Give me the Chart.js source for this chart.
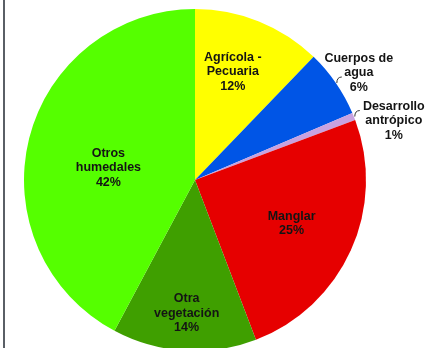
<!DOCTYPE html>
<html>
<head>
<meta charset="utf-8">
<script src="https://cdn.jsdelivr.net/npm/chart.js@4"></script>
<style>
  html, body { margin: 0; padding: 0; background: #fff; overflow: hidden; }
  #wrap { position: relative; width: 443px; height: 348px; overflow: hidden; }
  #edge { position: absolute; left: 3px; top: 0; width: 2px; height: 348px; background: #5a5f66; }
  canvas { display: block; }
</style>
</head>
<body>
<div id="wrap">
  <div id="edge"></div>
  <canvas id="chart" width="443" height="360"></canvas>
</div>
<script>
// data (percent of area)
var categories = [
  ['Agrícola -', 'Pecuaria'],
  ['Cuerpos de', 'agua'],
  ['Desarrollo', 'antrópico'],
  ['Manglar'],
  ['Otra', 'vegetación'],
  ['Otros', 'humedales']
];
var values = [12.2, 6.4, 0.7, 24.9, 13.6, 42.2];
var colors = ['#ffff00', '#0055e6', '#c8a2e0', '#e60000', '#3f9f00', '#55ff00'];

// where each label sits: fraction of radius along the slice middle, plus nudge
var labelLayout = [
  { r: 0.67, dx: -5, dy: -2 },
  { r: 1.0, dx: 23, dy: -10, leader: true },
  { r: 1.0, dx: 40, dy: 4, leader: true },
  { r: 0.62, dx: 0, dy: 0 },
  { r: 0.78, dx: 0, dy: 0 },
  { r: 0.51, dx: -2, dy: 9 }
];

var pieLabels = {
  id: 'pieLabels',
  afterDatasetsDraw: function (chart) {
    var ctx = chart.ctx;
    var meta = chart.getDatasetMeta(0);
    var total = values.reduce(function (a, b) { return a + b; }, 0);
    ctx.save();
    ctx.font = 'bold 12.5px "Liberation Sans", Arial, sans-serif';
    ctx.fillStyle = '#141414';
    ctx.textAlign = 'center';
    ctx.textBaseline = 'middle';
    meta.data.forEach(function (arc, i) {
      var p = arc.getProps(['x', 'y', 'startAngle', 'endAngle', 'outerRadius'], true);
      var mid = (p.startAngle + p.endAngle) / 2;
      var L = labelLayout[i];
      var ex = p.x + Math.cos(mid) * p.outerRadius * L.r;
      var ey = p.y + Math.sin(mid) * p.outerRadius * L.r;
      var lines = categories[i].concat([Math.round(values[i] / total * 100) + '%']);
      var cx = ex + L.dx, cy = ey + L.dy;
      var lh = 14.5;
      var y0 = cy - (lines.length - 1) / 2 * lh;
      lines.forEach(function (t, k) {
        ctx.fillText(t, cx, y0 + k * lh);
      });
      if (L.leader) {
        ctx.strokeStyle = '#333';
        ctx.lineWidth = 1;
        ctx.beginPath();
        ctx.moveTo(ex + 1, ey);
        ctx.quadraticCurveTo(ex + 1, ey - 6, ex + 6, ey - 6);
        ctx.stroke();
      }
    });
    ctx.restore();
  }
};

new Chart('chart', {
  type: 'pie',
  data: {
    labels: categories.map(function (c) { return c.join(' '); }),
    datasets: [{
      data: values,
      backgroundColor: colors,
      borderWidth: 0
    }]
  },
  options: {
    responsive: false,
    animation: false,
    layout: { padding: { left: 24, right: 77, top: 9, bottom: 9 } },
    plugins: {
      legend: { display: false },
      tooltip: { enabled: false }
    }
  },
  plugins: [pieLabels]
});
</script>
</body>
</html>
